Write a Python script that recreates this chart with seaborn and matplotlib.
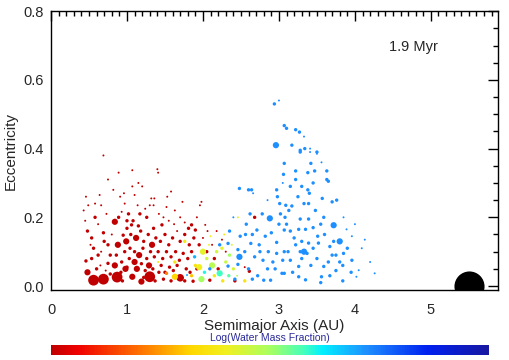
import numpy as np
import pandas as pd
import matplotlib
matplotlib.use("Agg")
import matplotlib.pyplot as plt
from matplotlib.colors import LinearSegmentedColormap
from matplotlib.ticker import MultipleLocator
import seaborn as sns

#%% Dados

# planetesimais secos (vermelho)
a_dry = [0.69, 0.56, 0.69, 0.87, 0.48, 0.46, 0.98, 0.48, 0.46, 0.75, 0.89, 0.82, 0.64, 0.73, 0.58, 0.62,
         0.69, 0.535, 0.56, 0.62, 0.535, 0.75, 0.78, 0.75, 0.84, 0.93, 0.97, 0.95, 1.0, 0.84, 0.93, 0.97,
         0.91, 0.96, 0.58, 0.66, 0.49, 0.43, 0.45, 0.52, 0.60, 0.66, 0.70, 0.80, 0.88, 0.92, 0.78, 0.65,
         0.86, 0.89, 1.0, 0.99, 0.94, 0.72,
         1.07, 1.41, 1.40, 1.15, 1.20, 1.07, 1.10, 1.32, 1.36, 1.30, 1.35, 1.52, 1.63, 1.73, 1.96, 1.98,
         1.17, 1.02, 1.26, 1.08, 1.48, 1.46, 1.35, 1.06, 1.15, 1.85, 1.81, 2.03, 1.90, 1.30, 1.07, 1.19,
         1.10, 1.0, 1.87, 1.37, 1.42, 1.70,
         1.05, 1.12, 1.18, 1.22, 1.28, 1.33, 1.38, 1.44, 1.50, 1.55, 1.60, 1.66, 1.70, 1.76, 1.82, 1.88,
         1.04, 1.10, 1.16, 1.21, 1.26, 1.31, 1.36, 1.41, 1.47, 1.52, 1.58, 1.64, 1.69, 1.74, 1.80, 1.85,
         1.03, 1.13, 1.19, 1.24, 1.29, 1.34, 1.45, 1.50, 1.56, 1.61, 1.66, 1.78, 1.83, 1.22, 1.48, 1.58,
         1.76, 1.92, 1.95, 2.0, 2.06, 1.14, 1.24, 1.42, 1.55, 1.62, 1.70, 1.76, 1.92, 1.58, 1.53,
         2.09, 2.42, 2.61, 2.68, 2.05, 2.15, 2.12, 2.20, 2.30, 2.25, 2.18, 2.55]
e_dry = [0.38, 0.017, 0.02, 0.026, 0.04, 0.073, 0.05, 0.16, 0.26, 0.31, 0.33, 0.28, 0.265, 0.21, 0.20, 0.18,
         0.155, 0.14, 0.11, 0.09, 0.08, 0.12, 0.09, 0.066, 0.06, 0.07, 0.10, 0.148, 0.168, 0.187, 0.216, 0.24,
         0.26, 0.27, 0.24, 0.235, 0.235, 0.22, 0.19, 0.12, 0.05, 0.10, 0.13, 0.15, 0.12, 0.04, 0.035, 0.06,
         0.09, 0.20, 0.19, 0.13, 0.015, 0.045,
         0.337, 0.33, 0.34, 0.30, 0.29, 0.29, 0.265, 0.255, 0.255, 0.235, 0.235, 0.23, 0.22, 0.245, 0.235, 0.245,
         0.21, 0.21, 0.20, 0.19, 0.20, 0.178, 0.168, 0.178, 0.175, 0.178, 0.168, 0.178, 0.163, 0.027, 0.027, 0.013,
         0.07, 0.055, 0.014, 0.015, 0.04, 0.024,
         0.15, 0.14, 0.16, 0.13, 0.15, 0.12, 0.14, 0.13, 0.15, 0.12, 0.14, 0.16, 0.13, 0.15, 0.12, 0.14,
         0.11, 0.10, 0.09, 0.11, 0.08, 0.10, 0.085, 0.10, 0.08, 0.10, 0.085, 0.10, 0.075, 0.095, 0.08, 0.10,
         0.08, 0.05, 0.065, 0.045, 0.06, 0.05, 0.06, 0.04, 0.055, 0.045, 0.06, 0.05, 0.04, 0.025, 0.02, 0.015,
         0.015, 0.05, 0.12, 0.14, 0.16, 0.235, 0.225, 0.21, 0.19, 0.18, 0.20, 0.185, 0.20, 0.275, 0.26,
         0.017, 0.015, 0.043, 0.20, 0.10, 0.08, 0.12, 0.05, 0.10, 0.135, 0.16, 0.055]
m_dry = [0.01, 0.3, 0.3, 0.35, 0.1, 0.03, 0.1, 0.03, 0.01, 0.01, 0.01, 0.01, 0.01, 0.01, 0.03, 0.01,
         0.03, 0.03, 0.03, 0.03, 0.03, 0.03, 0.03, 0.03, 0.1, 0.03, 0.03, 0.03, 0.03, 0.1, 0.01, 0.01,
         0.01, 0.01, 0.01, 0.01, 0.01, 0.01, 0.01, 0.01, 0.03, 0.01, 0.03, 0.01, 0.1, 0.03, 0.03, 0.01,
         0.03, 0.03, 0.03, 0.1, 0.03, 0.01,
         0.01, 0.01, 0.01, 0.01, 0.01, 0.01, 0.01, 0.01, 0.01, 0.01, 0.01, 0.01, 0.01, 0.01, 0.01, 0.01,
         0.03, 0.03, 0.03, 0.03, 0.01, 0.03, 0.03, 0.03, 0.03, 0.03, 0.03, 0.01, 0.03, 0.3, 0.1, 0.1,
         0.1, 0.03, 0.03, 0.03, 0.03, 0.15,
         0.03, 0.1, 0.03, 0.03, 0.03, 0.1, 0.03, 0.03, 0.03, 0.03, 0.03, 0.01, 0.03, 0.03, 0.03, 0.03,
         0.03, 0.03, 0.1, 0.03, 0.03, 0.03, 0.03, 0.03, 0.03, 0.03, 0.03, 0.03, 0.03, 0.03, 0.03, 0.03,
         0.03, 0.1, 0.03, 0.03, 0.1, 0.03, 0.03, 0.03, 0.03, 0.03, 0.03, 0.03, 0.03, 0.03, 0.03, 0.03,
         0.03, 0.03, 0.03, 0.01, 0.01, 0.01, 0.01, 0.01, 0.01, 0.01, 0.01, 0.01, 0.01, 0.01, 0.01,
         0.03, 0.03, 0.03, 0.03, 0.03, 0.03, 0.01, 0.03, 0.01, 0.01, 0.01, 0.01]

# planetesimais com agua intermediaria (laranja/amarelo/verde/ciano)
a_mix = [1.52, 1.63, 1.41, 1.63, 1.76, 1.79, 1.89, 2.0, 2.05, 2.08, 2.12, 1.95, 2.15, 2.22, 2.26, 2.55,
         2.30, 2.35, 2.18, 2.25, 2.40, 2.45, 2.10, 2.28, 1.85, 1.98, 2.02, 2.34, 2.5, 2.38, 1.90, 2.46]
e_mix = [0.037, 0.027, 0.07, 0.07, 0.13, 0.032, 0.085, 0.10, 0.08, 0.12, 0.06, 0.055, 0.03, 0.037, 0.015, 0.015,
         0.07, 0.09, 0.10, 0.11, 0.05, 0.03, 0.145, 0.15, 0.03, 0.02, 0.04, 0.03, 0.08, 0.12, 0.06, 0.2]
m_mix = [0.03, 0.1, 0.01, 0.03, 0.03, 0.01, 0.03, 0.1, 0.03, 0.01, 0.1, 0.1, 0.03, 0.1, 0.03, 0.03,
         0.03, 0.03, 0.03, 0.03, 0.03, 0.01, 0.01, 0.01, 0.03, 0.1, 0.03, 0.03, 0.01, 0.01, 0.03, 0.01]
w_mix = [0.22, 0.32, 0.35, 0.36, 0.38, 0.70, 0.68, 0.42, 0.45, 0.40, 0.48, 0.40, 0.38, 0.58, 0.36, 0.36,
         0.46, 0.50, 0.44, 0.42, 0.44, 0.48, 0.40, 0.38, 0.30, 0.50, 0.60, 0.56, 0.45, 0.42, 0.35, 0.42]

# planetesimais ricos em agua (azul)
a_wet = [3.07, 3.06, 2.97, 2.48, 2.60, 2.64, 2.66, 2.97, 2.98, 3.01, 3.09, 2.62, 2.88, 3.02, 3.08, 2.57,
         2.71, 3.07, 2.90, 2.56, 2.49, 2.82, 2.33, 2.22, 2.63, 2.74, 2.97, 2.46, 2.86, 2.97, 3.07, 2.48,
         2.68, 2.79, 2.92, 3.05, 2.46, 2.33, 2.09, 2.72, 2.80, 2.89, 3.07,
         3.28, 3.41, 3.50, 3.42, 3.22, 3.38, 3.47, 3.63, 3.22, 3.63, 3.65, 3.38, 3.57, 3.70, 3.76, 3.17,
         3.33, 3.39, 3.13, 3.28, 3.39, 3.59, 3.85, 4.0, 3.72, 3.15, 3.26, 3.35, 3.51, 3.89, 4.13, 3.96,
         3.22, 3.39, 3.52, 3.80, 3.28, 3.33, 3.37, 3.67, 3.70, 3.75, 3.85, 4.09, 3.15, 3.26, 3.59, 3.80,
         3.84, 3.96, 4.20, 4.05, 4.26, 3.26, 3.35, 3.56, 3.67, 3.84, 4.02, 3.04,
         2.94, 3.0, 3.07, 3.10, 3.22, 3.27, 3.33, 2.96, 3.17, 3.34, 3.28, 3.41, 3.50,
         3.10, 3.20, 3.30, 3.45, 3.50, 3.42, 3.12, 3.18, 3.30, 3.45, 3.55, 3.48, 3.40, 3.30, 3.25, 3.60,
         3.65, 3.72, 3.90, 3.95, 3.75, 3.55, 3.00, 2.95, 2.85, 2.75, 2.60, 2.55, 2.65, 2.78, 2.85, 2.40,
         2.35, 2.42, 2.65, 3.15, 3.05, 3.56, 3.45]
e_wet = [0.357, 0.325, 0.41, 0.284, 0.28, 0.28, 0.27, 0.28, 0.26, 0.24, 0.235, 0.21, 0.197, 0.21, 0.20, 0.18,
         0.163, 0.163, 0.155, 0.15, 0.145, 0.145, 0.124, 0.12, 0.124, 0.12, 0.127, 0.106, 0.10, 0.095, 0.10, 0.085,
         0.085, 0.075, 0.07, 0.075, 0.063, 0.058, 0.05, 0.03, 0.017, 0.017, 0.037,
         0.395, 0.40, 0.39, 0.357, 0.335, 0.33, 0.335, 0.335, 0.31, 0.31, 0.305, 0.28, 0.255, 0.245, 0.25, 0.233,
         0.24, 0.24, 0.22, 0.195, 0.195, 0.20, 0.20, 0.18, 0.177, 0.16, 0.165, 0.165, 0.145, 0.165, 0.135, 0.145,
         0.12, 0.125, 0.125, 0.13, 0.10, 0.10, 0.095, 0.115, 0.09, 0.09, 0.095, 0.11, 0.075, 0.057, 0.057, 0.07,
         0.06, 0.075, 0.07, 0.046, 0.037, 0.027, 0.018, 0.027, 0.03, 0.015, 0.027, 0.037,
         0.53, 0.54, 0.467, 0.459, 0.455, 0.448, 0.435, 0.41, 0.41, 0.40, 0.39, 0.39, 0.385,
         0.18, 0.14, 0.13, 0.11, 0.08, 0.06, 0.10, 0.04, 0.08, 0.17, 0.18, 0.22, 0.27, 0.29, 0.26, 0.15,
         0.07, 0.13, 0.11, 0.04, 0.045, 0.01, 0.18, 0.05, 0.05, 0.10, 0.05, 0.10, 0.15, 0.21, 0.25, 0.20,
         0.16, 0.02, 0.02, 0.29, 0.30, 0.36, 0.30]
m_wet = [0.03, 0.03, 0.03, 0.03, 0.03, 0.03, 0.01, 0.03, 0.03, 0.03, 0.03, 0.03, 0.1, 0.03, 0.03, 0.03,
         0.03, 0.03, 0.03, 0.03, 0.03, 0.03, 0.03, 0.03, 0.03, 0.03, 0.03, 0.03, 0.03, 0.03, 0.03, 0.1,
         0.03, 0.03, 0.03, 0.03, 0.03, 0.03, 0.03, 0.03, 0.03, 0.03, 0.03,
         0.03, 0.01, 0.03, 0.03, 0.03, 0.03, 0.03, 0.03, 0.03, 0.03, 0.03, 0.03, 0.03, 0.03, 0.03, 0.03,
         0.03, 0.03, 0.03, 0.03, 0.03, 0.03, 0.01, 0.01, 0.1, 0.03, 0.03, 0.03, 0.03, 0.01, 0.01, 0.01,
         0.03, 0.03, 0.03, 0.1, 0.03, 0.1, 0.03, 0.03, 0.03, 0.03, 0.03, 0.01, 0.03, 0.03, 0.03, 0.03,
         0.03, 0.03, 0.01, 0.01, 0.01, 0.03, 0.03, 0.03, 0.03, 0.03, 0.01, 0.03,
         0.03, 0.01, 0.03, 0.03, 0.03, 0.03, 0.01, 0.1, 0.03, 0.03, 0.03, 0.01, 0.01,
         0.03, 0.03, 0.03, 0.03, 0.03, 0.03, 0.03, 0.03, 0.03, 0.03, 0.03, 0.03, 0.03, 0.03, 0.03, 0.03,
         0.03, 0.03, 0.03, 0.03, 0.03, 0.03, 0.03, 0.03, 0.03, 0.03, 0.03, 0.03, 0.03, 0.03, 0.01, 0.01,
         0.03, 0.03, 0.03, 0.03, 0.01, 0.01, 0.03]

w_dry = 0.0    # fracao de agua normalizada (escala da barra de cores)
w_wet = 0.72

# Jupiter
a_jup = [5.5]
e_jup = [0.0]

tempo = "1.9 Myr"

#%% Montagem da tabela

df = pd.concat([
    pd.DataFrame({'a': a_dry, 'e': e_dry, 'm': m_dry, 'w': w_dry}),
    pd.DataFrame({'a': a_mix, 'e': e_mix, 'm': m_mix, 'w': w_mix}),
    pd.DataFrame({'a': a_wet, 'e': e_wet, 'm': m_wet, 'w': w_wet}),
], ignore_index=True)

#%% Grafico

sns.set_style("white")
plt.rcParams['font.family'] = ['Liberation Sans', 'DejaVu Sans']

cores = [(0.0, '#c00000'), (0.06, '#f00000'), (0.2, '#ff7000'), (0.32, '#ffd800'),
         (0.4, '#f0f020'), (0.5, '#a8ff60'), (0.58, '#40ffc0'), (0.62, '#00f0ff'),
         (0.72, '#1e90ff'), (0.86, '#0020f0'), (1.0, '#1818a0')]
cmap = LinearSegmentedColormap.from_list('agua', cores)

fig = plt.figure(figsize=(5.1, 3.6), dpi=100)
ax = fig.add_axes([0.1, 0.194, 0.876, 0.775])

sns.scatterplot(data=df, x='a', y='e', hue='w', size='m', palette=cmap, hue_norm=(0, 1),
                sizes=(2, 60), size_norm=(0.01, 0.3), linewidth=0, legend=False, ax=ax)
ax.scatter(a_jup, e_jup, s=470, color='black', linewidth=0, zorder=5)

ax.set_xlim(0, 5.88)
ax.set_ylim(-0.012, 0.8)
ax.xaxis.set_major_locator(MultipleLocator(1))
ax.xaxis.set_minor_locator(MultipleLocator(0.1))
ax.yaxis.set_major_locator(MultipleLocator(0.2))
ax.yaxis.set_minor_locator(MultipleLocator(0.05))
ax.yaxis.set_major_formatter(matplotlib.ticker.FormatStrFormatter('%.1f'))
ax.tick_params(which='both', direction='in', top=True, right=True, labelsize=10.5, color='black', width=1)
ax.tick_params(which='major', length=7)
ax.tick_params(which='minor', length=3.5)
ax.tick_params(axis='x', pad=9)
ax.tick_params(axis='y', pad=5)
for s in ax.spines.values():
    s.set_color('black')
    s.set_linewidth(1)

ax.set_xlabel('Semimajor Axis (AU)', fontsize=11, labelpad=2)
ax.set_ylabel('Eccentricity', fontsize=11, labelpad=4)
ax.text(0.812, 0.871, tempo, transform=ax.transAxes, ha='center', va='center', fontsize=10.5)

# barra de cores
cax = fig.add_axes([0.1, 0.014, 0.859, 0.028])
cb = fig.colorbar(matplotlib.cm.ScalarMappable(norm=matplotlib.colors.Normalize(0, 1), cmap=cmap),
                  cax=cax, orientation='horizontal')
cb.outline.set_visible(False)
cb.set_ticks([])
fig.text(0.53, 0.061, 'Log(Water Mass Fraction)', ha='center', va='center', fontsize=7.5, color='#2a2a9a')

fig.savefig('out.png', dpi=100)
